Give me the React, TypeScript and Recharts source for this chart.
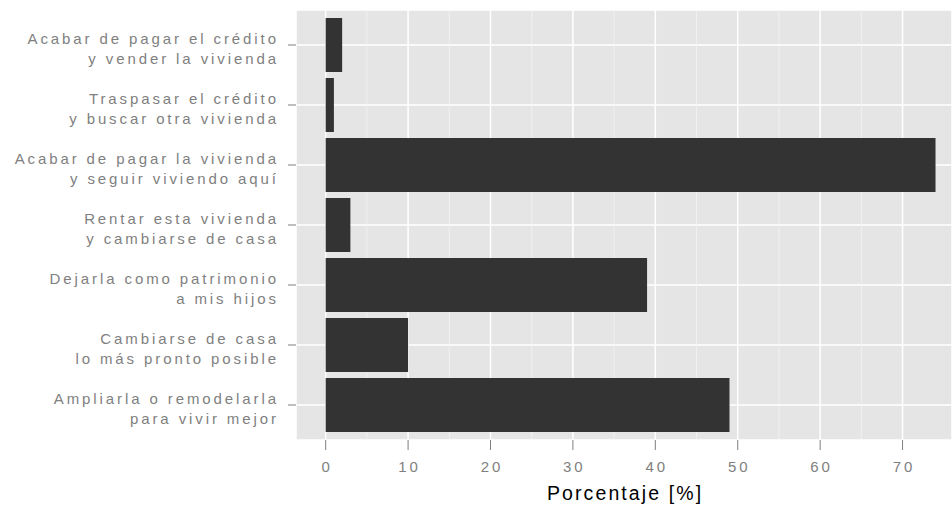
import React from "react";
import { BarChart, Bar, XAxis, YAxis, CartesianGrid, Label } from "recharts";

const categories = [
  "Acabar de pagar el crédito\ny vender la vivienda",
  "Traspasar el crédito\ny buscar otra vivienda",
  "Acabar de pagar la vivienda\ny seguir viviendo aquí",
  "Rentar esta vivienda\ny cambiarse de casa",
  "Dejarla como patrimonio\na mis hijos",
  "Cambiarse de casa\nlo más pronto posible",
  "Ampliarla o remodelarla\npara vivir mejor",
];
const percentages = [2, 1, 74, 3, 39, 10, 49];
const xTicks = [0, 10, 20, 30, 40, 50, 60, 70];
const minorBreaks = [5, 15, 25, 35, 45, 55, 65];
const xTitle = "Porcentaje [%]";

const data = categories.map((c, i) => ({ category: c, value: percentages[i] }));

const FONT = '"Liberation Sans", Arial, sans-serif';
const LS = 2.9;

const YTick = (props: any) => {
  const { x, y, payload } = props;
  const lines = String(payload.value).split("\n");
  const tx = x - 10 + LS;
  return (
    <text
      textAnchor="end"
      fill="#7f7f7f"
      fontSize={15}
      fontFamily={FONT}
      style={{ letterSpacing: `${LS}px` }}
    >
      <tspan x={tx} y={y - 1}>{lines[0]}</tspan>
      <tspan x={tx} y={y + 19}>{lines[1] || ""}</tspan>
    </text>
  );
};

const XTick = (props: any) => {
  const { x, y, payload } = props;
  return (
    <text
      x={x + LS / 2}
      y={y}
      dy={20}
      textAnchor="middle"
      fill="#7f7f7f"
      fontSize={15}
      fontFamily={FONT}
      style={{ letterSpacing: `${LS}px` }}
    >
      {payload.value}
    </text>
  );
};

const XTitle = (props: any) => {
  const vb = props.viewBox || {};
  const ls = 2.1;
  return (
    <text
      x={vb.x + vb.width / 2 + ls / 2}
      y={vb.y + 60}
      textAnchor="middle"
      fill="#000000"
      fontSize={19.5}
      fontFamily={FONT}
      style={{ letterSpacing: `${ls}px` }}
    >
      {xTitle}
    </text>
  );
};

export default function App() {
  return (
    <div
      style={{
        position: "absolute",
        left: 0,
        top: 0,
        width: 952,
        height: 508,
        background: "#ffffff",
        fontFamily: FONT,
      }}
    >
      <BarChart
        width={952}
        height={508}
        data={data}
        layout="vertical"
        margin={{ top: 10, right: 0, bottom: 0, left: 0 }}
      >
        <CartesianGrid
          fill="#e5e5e5"
          stroke="#ffffff"
          strokeWidth={1.5}
          vertical={true}
          horizontal={true}
        />
        <CartesianGrid
          horizontal={false}
          verticalValues={minorBreaks}
          stroke="#f4f4f4"
          strokeWidth={0.8}
          fill="none"
        />
        <XAxis
          type="number"
          domain={[-3.6, 76]}
          allowDataOverflow
          ticks={xTicks}
          interval={0}
          axisLine={false}
          tickSize={10}
          tickLine={{ stroke: "#7f7f7f", strokeWidth: 1 }}
          tick={<XTick />}
          height={68}
        >
          <Label content={<XTitle />} />
        </XAxis>
        <YAxis
          type="category"
          dataKey="category"
          width={296}
          padding={{ top: 5, bottom: 5 }}
          interval={0}
          axisLine={false}
          tickSize={8}
          tickLine={{ stroke: "#7f7f7f", strokeWidth: 1 }}
          tick={<YTick />}
        />
        <Bar dataKey="value" fill="#333333" barSize={54} isAnimationActive={false} />
      </BarChart>
    </div>
  );
}
